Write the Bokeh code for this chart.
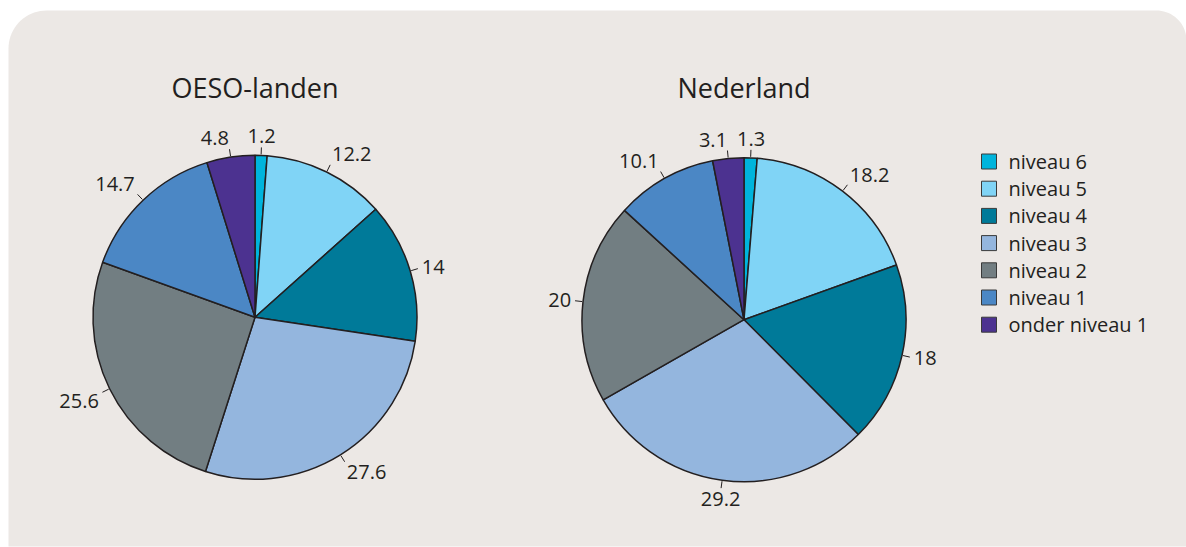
import numpy as np
from bokeh.plotting import figure
from bokeh.models import Range1d, ColumnDataSource
from bokeh.embed import file_html
from bokeh.resources import INLINE
from bokeh.core.properties import value, field

# ---- data ----
levels = ["niveau 6", "niveau 5", "niveau 4", "niveau 3", "niveau 2", "niveau 1", "onder niveau 1"]
colors = ["#00b4dc", "#80d4f6", "#007a99", "#94b6de", "#727e82", "#4b87c5", "#4c3290"]
oeso = [1.2, 12.2, 14, 27.6, 25.6, 14.7, 4.8]
nederland = [1.3, 18.2, 18, 29.2, 20, 10.1, 3.1]
oeso_labels = ["1.2", "12.2", "14", "27.6", "25.6", "14.7", "4.8"]
nederland_labels = ["1.3", "18.2", "18", "29.2", "20", "10.1", "3.1"]
titles = ["OESO-landen", "Nederland"]

W, H = 1186, 547
TXT = "#231f20"
PANEL = "#ece8e5"
FONT = "Open Sans"


def X(rx):
    return rx


def Y(ry):
    return H - ry


p = figure(width=W, height=H, output_backend="svg", toolbar_location=None,
           x_range=Range1d(0, W), y_range=Range1d(0, H), min_border=0,
           background_fill_color="white", border_fill_color="white")
p.xaxis.visible = False
p.yaxis.visible = False
p.grid.visible = False
p.outline_line_color = None

# ---- rounded panel ----
left, right, top, bottom = X(8), X(1186), Y(10), Y(546)
r_tl, r_tr = 38, 30
xs, ys = [left], [bottom]
t = np.linspace(np.pi, np.pi / 2, 20)
xs += list(left + r_tl + r_tl * np.cos(t))
ys += list(top - r_tl + r_tl * np.sin(t))
t = np.linspace(np.pi / 2, 0, 20)
xs += list(right - r_tr + r_tr * np.cos(t))
ys += list(top - r_tr + r_tr * np.sin(t))
xs += [right]
ys += [bottom]
p.patch(xs, ys, fill_color=PANEL, line_color=None)

# ---- pies ----
R = 162
centers = [(X(254.5), Y(316.8)), (X(743.5), Y(319.2))]
datasets = [oeso, nederland]
labelsets = [oeso_labels, nederland_labels]

for (cx, cy), vals, labs, title in zip(centers, datasets, labelsets, titles):
    vals = np.array(vals, dtype=float)
    frac = vals / vals.sum()
    cum_end = np.cumsum(frac)
    cum_start = cum_end - frac
    a_start = np.pi / 2 - cum_end * 2 * np.pi
    a_end = np.pi / 2 - cum_start * 2 * np.pi
    src = ColumnDataSource(dict(x=[cx] * len(vals), y=[cy] * len(vals),
                                start=a_start, end=a_end, color=colors))
    p.wedge(x="x", y="y", radius=R, start_angle="start", end_angle="end",
            fill_color="color", line_color=TXT, line_width=1.5, source=src)

    mid = (cum_start + cum_end) / 2 * 2 * np.pi  # clockwise from top
    s, c = np.sin(mid), np.cos(mid)
    p.segment(x0=cx + (R + 1) * s, y0=cy + (R + 1) * c,
              x1=cx + (R + 8) * s, y1=cy + (R + 8) * c,
              line_color=TXT, line_width=1)
    aligns, bases = [], []
    for si, ci in zip(s, c):
        if si > 0.06:
            a = "left"
        elif si < -0.06 and ci > -0.9:
            a = "right"
        else:
            a = "center"
        if ci > 0.35:
            b = "bottom"
        elif ci < -0.35:
            b = "top"
        else:
            b = "middle"
        aligns.append(a)
        bases.append(b)
    lsrc = ColumnDataSource(dict(x=cx + (R + 12) * s, y=cy + (R + 12) * c,
                                 text=labs, align=aligns, base=bases))
    p.text(x="x", y="y", text="text", text_align=field("align"),
           text_baseline=field("base"), text_font=value(FONT),
           text_font_size="20px", text_color=TXT, source=lsrc)
    p.text(x=[cx], y=[Y(87)], text=[title], text_align="center",
           text_baseline="alphabetic", text_font=value(FONT),
           text_font_size="27px", text_color=TXT)

# ---- legend ----
n = len(levels)
row = np.arange(n)
ly = Y(161) - row * 27.2
p.rect(x=[X(988.5)] * n, y=ly, width=15, height=15, fill_color=colors,
       line_color="#3a3a3a", line_width=1)
p.text(x=[X(1008)] * n, y=ly, text=levels, text_align="left",
       text_baseline="middle", text_font=value(FONT), text_font_size="20px",
       text_color=TXT)

open("out.html", "w").write(file_html(p, INLINE))
